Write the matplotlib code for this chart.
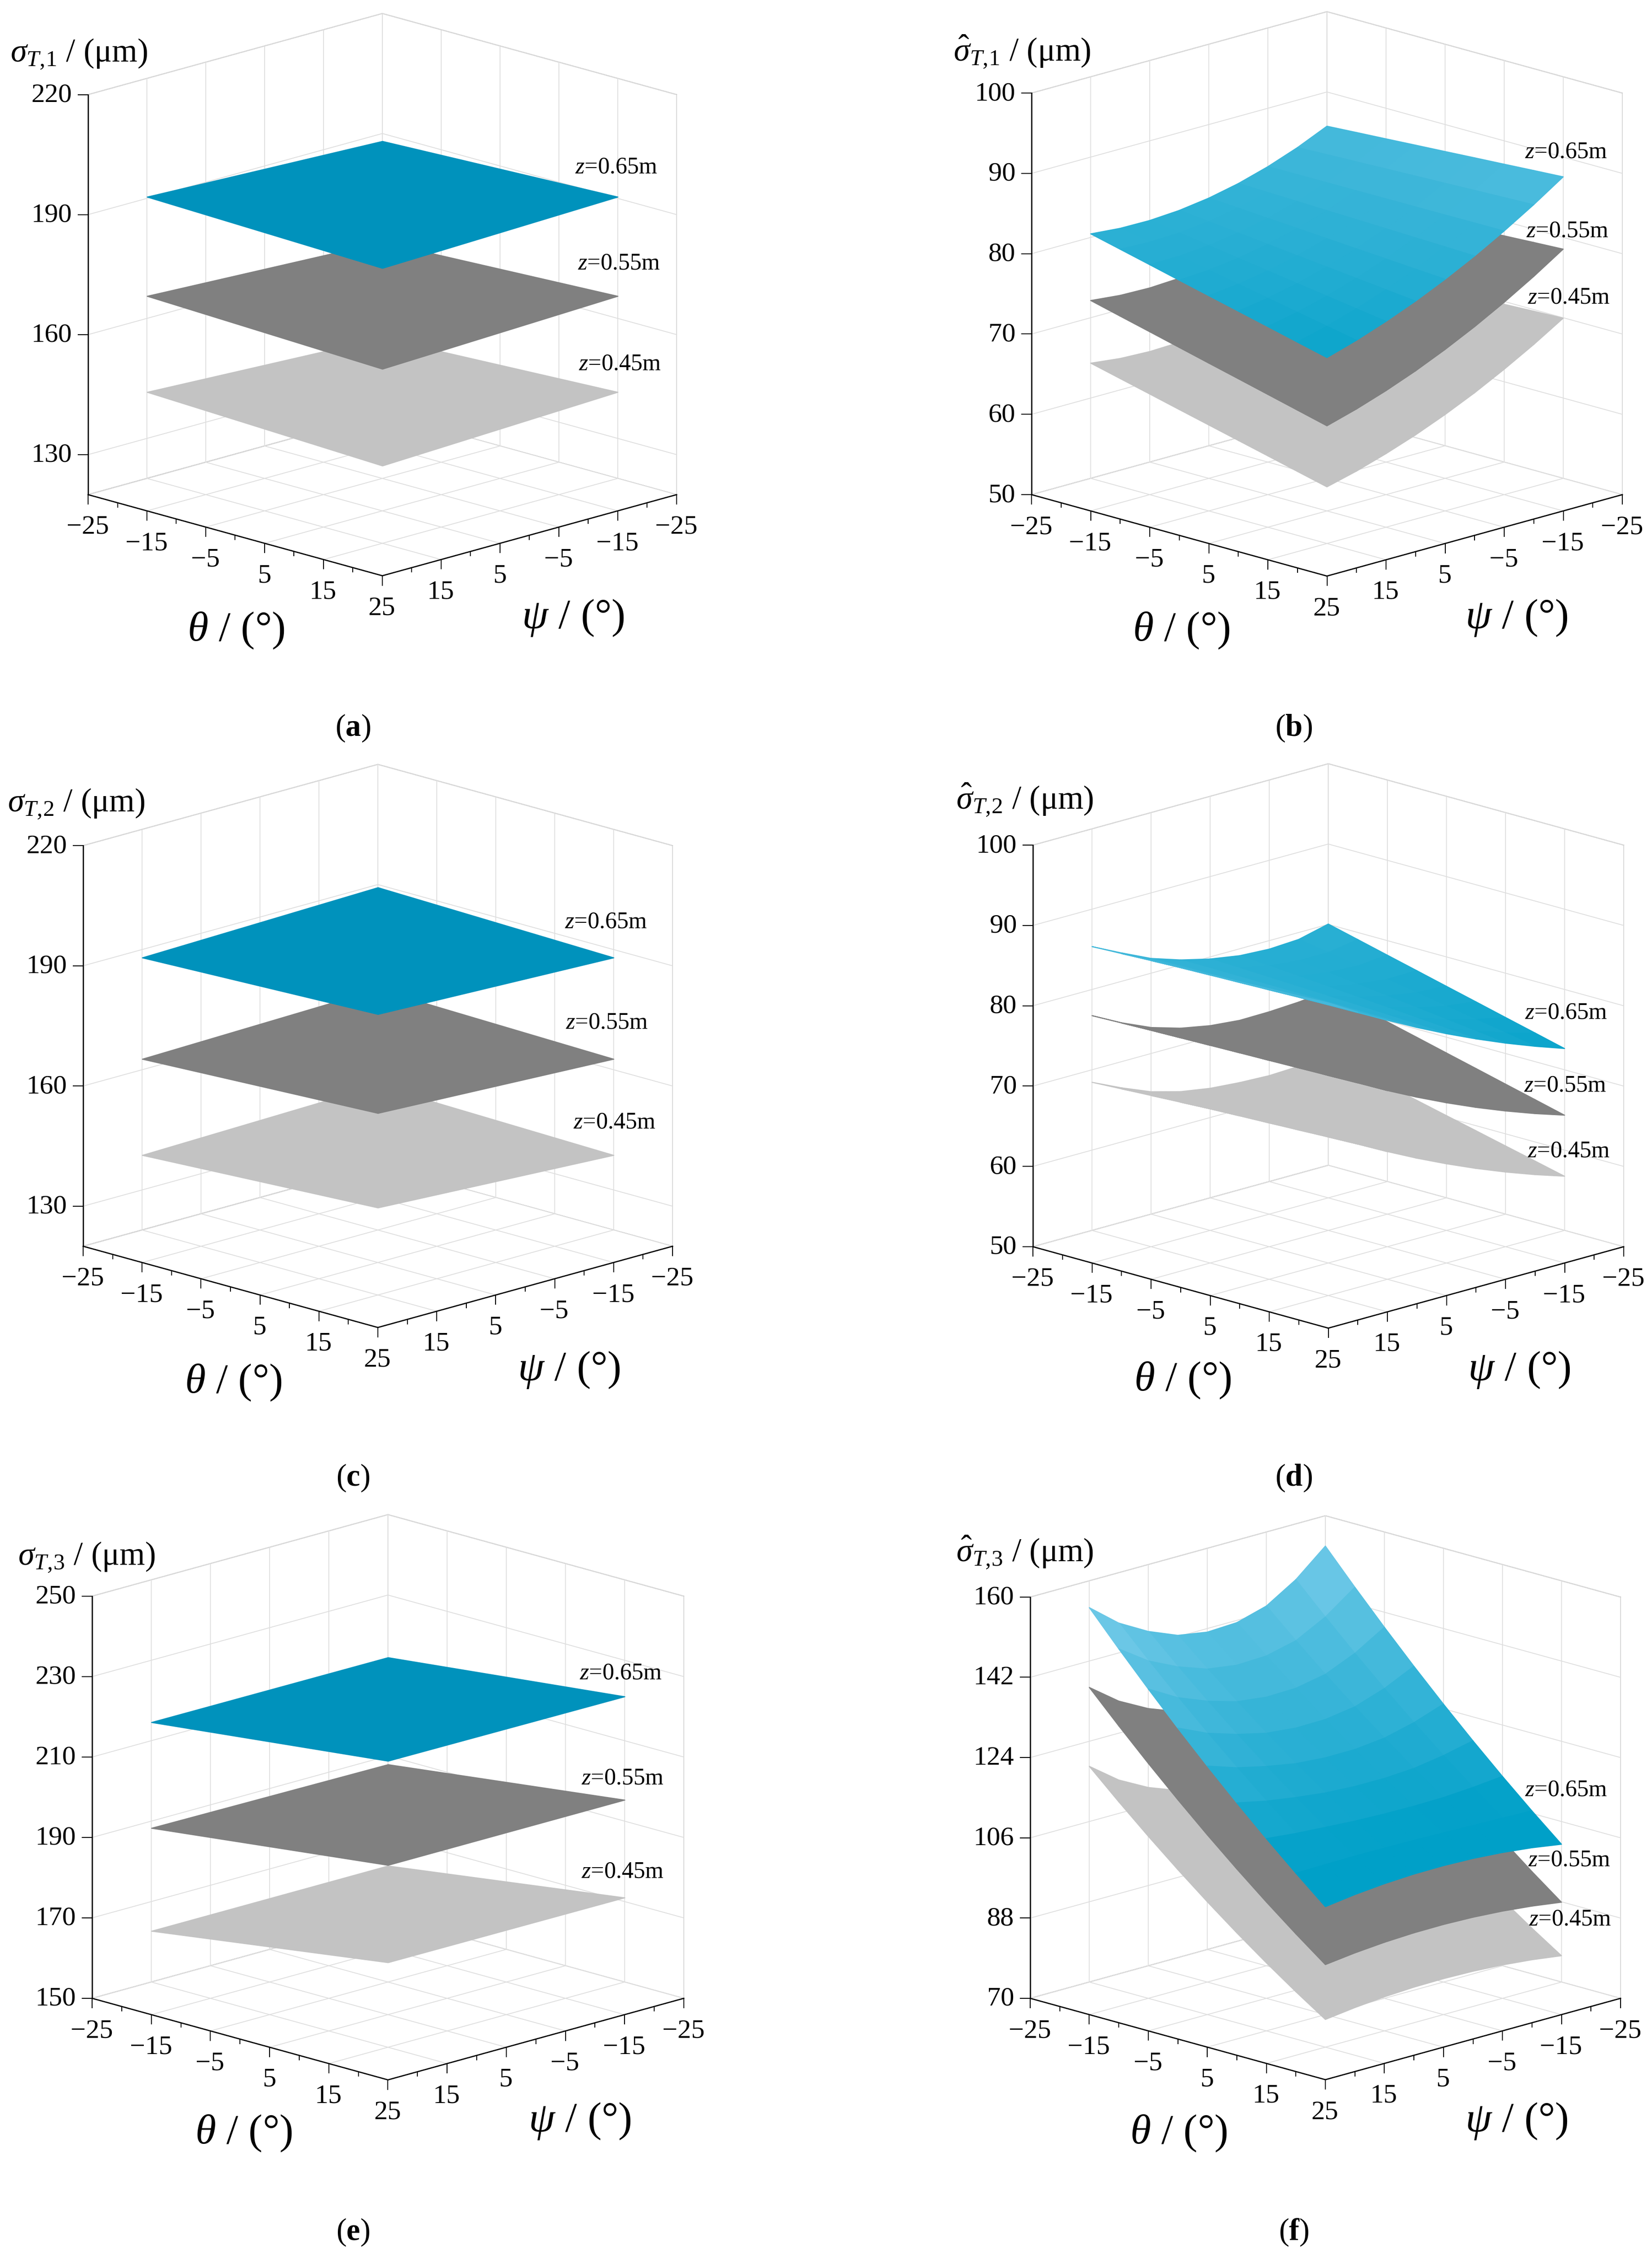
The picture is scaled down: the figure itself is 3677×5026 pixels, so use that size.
import numpy as np
import matplotlib
matplotlib.use('Agg')
import matplotlib.pyplot as plt
from matplotlib.lines import Line2D

plt.rcParams['font.family'] = ['Liberation Serif', 'DejaVu Serif']
plt.rcParams['mathtext.fontset'] = 'custom'
plt.rcParams['mathtext.rm'] = 'Liberation Serif'
plt.rcParams['mathtext.it'] = 'Liberation Serif:italic'
plt.rcParams['mathtext.bf'] = 'Liberation Serif:bold'
plt.rcParams['axes.unicode_minus'] = True

# ---------------- data ----------------
axis_ticks = [-25, -15, -5, 5, 15, 25]
minor_ticks = [-20, -10, 0, 10, 20]
theta_flat = [-15, 25]              # grid for the flat planes (rows = theta)
psi_flat = [-15, 25]                # (cols = psi)
theta_grid = [-15, -10, -5, 0, 5, 10, 15, 20, 25]   # grid for curved surfaces
psi_grid = [-15, -10, -5, 0, 5, 10, 15, 20, 25]
levels = ['0.65', '0.55', '0.45']

# (a) sigma_T,1
a_065 = [[196.2, 198.5], [198.5, 196.9]]
a_055 = [[171.0, 173.7], [173.7, 171.7]]
a_045 = [[147.0, 149.7], [149.7, 147.5]]
# (c) sigma_T,2
c_065 = [[197.4, 196.1], [196.1, 198.2]]
c_055 = [[172.0, 170.8], [170.8, 173.5]]
c_045 = [[148.0, 146.8], [146.8, 149.9]]
# (e) sigma_T,3
e_065 = [[222.6, 222.7], [229.1, 229.3]]
e_055 = [[196.0, 196.4], [203.4, 203.4]]
e_045 = [[170.8, 170.8], [179.1, 179.2]]

# (b) hat sigma_T,1   rows: theta, cols: psi
b_065 = [[89.80, 88.15, 86.79, 85.70, 84.90, 84.38, 84.14, 84.18, 84.50],
         [90.03, 88.28, 86.80, 85.59, 84.65, 83.98, 83.58, 83.45, 83.59],
         [90.25, 88.40, 86.81, 85.48, 84.40, 83.58, 83.02, 82.72, 82.68],
         [90.48, 88.53, 86.82, 85.36, 84.15, 83.18, 82.46, 81.99, 81.76],
         [90.70, 88.65, 86.83, 85.25, 83.90, 82.78, 81.90, 81.26, 80.85],
         [90.93, 88.77, 86.84, 85.14, 83.65, 82.39, 81.34, 80.53, 79.94],
         [91.15, 88.90, 86.85, 85.02, 83.40, 81.99, 80.79, 79.80, 79.03],
         [91.38, 89.02, 86.87, 84.91, 83.15, 81.59, 80.23, 79.07, 78.11],
         [91.60, 89.14, 86.88, 84.79, 82.90, 81.19, 79.68, 78.34, 77.20]]
b_055 = [[81.10, 79.50, 78.19, 77.15, 76.40, 75.93, 75.74, 75.83, 76.20],
         [81.29, 79.59, 78.17, 77.01, 76.12, 75.50, 75.15, 75.07, 75.26],
         [81.48, 79.68, 78.14, 76.86, 75.84, 75.07, 74.56, 74.32, 74.33],
         [81.67, 79.77, 78.12, 76.71, 75.56, 74.64, 73.98, 73.56, 73.39],
         [81.85, 79.86, 78.09, 76.57, 75.28, 74.21, 73.39, 72.80, 72.45],
         [82.04, 79.94, 78.07, 76.43, 74.99, 73.79, 72.80, 72.05, 71.52],
         [82.23, 80.03, 78.04, 76.27, 74.71, 73.36, 72.22, 71.29, 70.58],
         [82.42, 80.12, 78.03, 76.13, 74.43, 72.93, 71.63, 70.53, 69.64],
         [82.60, 80.20, 78.00, 75.98, 74.15, 72.50, 71.05, 69.78, 68.70]]
b_045 = [[72.80, 71.26, 70.02, 69.04, 68.35, 67.94, 67.82, 67.97, 68.40],
         [72.95, 71.33, 69.97, 68.88, 68.06, 67.51, 67.24, 67.23, 67.49],
         [73.10, 71.38, 69.92, 68.72, 67.78, 67.09, 66.66, 66.49, 66.58],
         [73.26, 71.45, 69.88, 68.56, 67.49, 66.66, 66.08, 65.75, 65.66],
         [73.40, 71.50, 69.83, 68.40, 67.20, 66.23, 65.50, 65.01, 64.75],
         [73.55, 71.55, 69.78, 68.24, 66.91, 65.81, 64.92, 64.27, 63.84],
         [73.70, 71.62, 69.74, 68.08, 66.63, 65.38, 64.35, 63.53, 62.93],
         [73.86, 71.67, 69.70, 67.92, 66.34, 64.96, 63.77, 62.79, 62.01],
         [74.00, 71.73, 69.66, 67.75, 66.05, 64.53, 63.21, 62.05, 61.10]]
# (d) hat sigma_T,2
d_065 = [[84.10, 83.20, 83.00, 83.20, 83.80, 84.70, 85.90, 87.60, 89.40],
         [83.18, 82.55, 82.55, 82.92, 83.65, 84.66, 85.95, 87.69, 89.54],
         [82.25, 81.90, 82.10, 82.64, 83.50, 84.62, 86.00, 87.79, 89.68],
         [81.33, 81.25, 81.65, 82.35, 83.35, 84.58, 86.05, 87.88, 89.81],
         [80.40, 80.60, 81.20, 82.07, 83.20, 84.55, 86.10, 87.97, 89.95],
         [79.48, 79.94, 80.75, 81.79, 83.05, 84.51, 86.15, 88.06, 90.09],
         [78.55, 79.29, 80.30, 81.51, 82.90, 84.47, 86.20, 88.16, 90.23],
         [77.63, 78.64, 79.85, 81.22, 82.75, 84.43, 86.25, 88.25, 90.36],
         [76.70, 77.99, 79.40, 80.94, 82.60, 84.39, 86.30, 88.34, 90.50]]
d_055 = [[75.80, 75.40, 75.20, 75.15, 75.50, 76.20, 77.30, 78.90, 80.80],
         [74.88, 74.68, 74.67, 74.81, 75.31, 76.14, 77.33, 78.98, 80.90],
         [73.95, 73.95, 74.14, 74.47, 75.13, 76.08, 77.36, 79.05, 81.00],
         [73.03, 73.23, 73.61, 74.12, 74.94, 76.02, 77.39, 79.13, 81.10],
         [72.10, 72.51, 73.08, 73.78, 74.75, 75.96, 77.43, 79.21, 81.20],
         [71.18, 71.78, 72.54, 73.44, 74.56, 75.89, 77.46, 79.28, 81.30],
         [70.25, 71.06, 72.01, 73.10, 74.38, 75.83, 77.49, 79.36, 81.40],
         [69.33, 70.33, 71.48, 72.75, 74.19, 75.77, 77.52, 79.43, 81.50],
         [68.40, 69.61, 70.95, 72.41, 74.00, 75.71, 77.55, 79.51, 81.60]]
d_045 = [[67.80, 67.40, 67.25, 67.40, 67.70, 68.30, 69.30, 70.80, 72.50],
         [66.93, 66.73, 66.76, 67.08, 67.54, 68.28, 69.38, 70.94, 72.69],
         [66.05, 66.05, 66.28, 66.75, 67.38, 68.25, 69.46, 71.08, 72.88],
         [65.18, 65.38, 65.79, 66.43, 67.21, 68.23, 69.54, 71.22, 73.06],
         [64.30, 64.71, 65.30, 66.11, 67.05, 68.21, 69.63, 71.36, 73.25],
         [63.43, 64.03, 64.81, 65.78, 66.89, 68.18, 69.71, 71.49, 73.44],
         [62.55, 63.36, 64.33, 65.46, 66.73, 68.16, 69.79, 71.63, 73.63],
         [61.68, 62.68, 63.84, 65.13, 66.56, 68.13, 69.87, 71.77, 73.81],
         [60.80, 62.01, 63.35, 64.81, 66.40, 68.11, 69.95, 71.91, 74.00]]
# (f) hat sigma_T,3
f_065 = [[160.50, 154.80, 150.70, 148.80, 148.50, 149.60, 152.30, 156.00, 161.30],
         [153.09, 148.23, 144.74, 143.14, 142.90, 143.85, 146.18, 149.34, 153.86],
         [145.93, 141.91, 139.02, 137.72, 137.55, 138.36, 140.30, 142.92, 146.68],
         [139.01, 135.84, 133.56, 132.55, 132.45, 133.11, 134.68, 136.76, 139.74],
         [132.35, 130.02, 128.36, 127.64, 127.60, 128.12, 129.31, 130.84, 133.05],
         [125.94, 124.45, 123.39, 122.98, 123.00, 123.37, 124.17, 125.18, 126.61],
         [119.78, 119.13, 118.68, 118.57, 118.65, 118.88, 119.30, 119.76, 120.43],
         [113.86, 114.06, 114.21, 114.40, 114.55, 114.63, 114.67, 114.60, 114.49],
         [108.20, 109.24, 110.00, 110.49, 110.70, 110.64, 110.30, 109.69, 108.80]]
f_055 = [[142.60, 137.20, 133.50, 131.80, 131.50, 132.50, 135.00, 138.50, 143.40],
         [135.80, 131.20, 128.04, 126.61, 126.38, 127.24, 129.39, 132.39, 136.58],
         [129.25, 125.43, 122.84, 121.67, 121.50, 122.24, 124.04, 126.53, 130.00],
         [122.95, 119.93, 117.88, 116.99, 116.87, 117.48, 118.93, 120.91, 123.68],
         [116.90, 114.68, 113.18, 112.55, 112.50, 112.98, 114.08, 115.55, 117.60],
         [111.10, 109.66, 108.72, 108.36, 108.38, 108.72, 109.47, 110.44, 111.78],
         [105.55, 104.91, 104.51, 104.42, 104.50, 104.72, 105.12, 105.58, 106.20],
         [100.25, 100.41, 100.56, 100.73, 100.87, 100.96, 101.01, 100.97, 100.88],
         [95.20, 96.15, 96.85, 97.30, 97.50, 97.45, 97.15, 96.60, 95.80]]
f_045 = [[124.90, 119.50, 115.80, 114.10, 113.80, 114.80, 117.30, 120.80, 125.70],
         [118.81, 114.20, 111.05, 109.61, 109.37, 110.23, 112.38, 115.37, 119.55],
         [112.98, 109.15, 106.54, 105.37, 105.19, 105.92, 107.71, 110.19, 113.65],
         [107.39, 104.35, 102.29, 101.39, 101.25, 101.85, 103.29, 105.25, 108.00],
         [102.05, 99.81, 98.29, 97.65, 97.58, 98.03, 99.11, 100.57, 102.60],
         [96.96, 95.50, 94.53, 94.16, 94.15, 94.47, 95.19, 96.14, 97.45],
         [92.13, 91.46, 91.03, 90.91, 90.97, 91.15, 91.52, 91.96, 92.55],
         [87.54, 87.66, 87.78, 87.92, 88.03, 88.08, 88.10, 88.02, 87.90],
         [83.20, 84.12, 84.78, 85.19, 85.35, 85.27, 84.93, 84.34, 83.50]]

zticks_a = [130, 160, 190, 220]
zticks_b = [50, 60, 70, 80, 90, 100]
zticks_e = [150, 170, 190, 210, 230, 250]
zticks_f = [70, 88, 106, 124, 142, 160]

ztitles = [r'$\sigma_{T,\!1}$ / (μm)', r'$\hat{\sigma}_{T,\!1}$ / (μm)',
           r'$\sigma_{T,\!2}$ / (μm)', r'$\hat{\sigma}_{T,\!2}$ / (μm)',
           r'$\sigma_{T,\!3}$ / (μm)', r'$\hat{\sigma}_{T,\!3}$ / (μm)']
panel_tags = ['a', 'b', 'c', 'd', 'e', 'f']

# ---------------- layout / style ----------------
W, H = 3677, 5026
DPI = 300
fig = plt.figure(figsize=(W / DPI, H / DPI), dpi=DPI)

BLUE_FLAT = np.array([0, 146, 188]) / 255
BLUE_LO = np.array([0, 160, 200]) / 255
BLUE_HI = np.array([120, 204, 234]) / 255
DARK = np.array([128, 128, 128]) / 255
LIGHT = np.array([195, 195, 195]) / 255

panels = [
    dict(data=[a_065, a_055, a_045], th=theta_flat, ps=psi_flat, zlim=(120, 220), zt=zticks_a,
         curved=False, xL=196, xR=1506, yL=1101,
         ztitle=(23, 120), thl=(525, 1404), psl=(1275, 1375),
         zl=[(1280, 373), (1286, 587), (1288, 811)], tag=(786, 1621)),
    dict(data=[b_065, b_055, b_045], th=theta_grid, ps=psi_grid, zlim=(50, 100), zt=zticks_b,
         curved=True, xL=2296, xR=3611, yL=1101,
         ztitle=(2122, 115), thl=(2629, 1404), psl=(3375, 1375),
         zl=[(3394, 338), (3397, 514), (3400, 662)], tag=(2880, 1621)),
    dict(data=[c_065, c_055, c_045], th=theta_flat, ps=psi_flat, zlim=(120, 220), zt=zticks_a,
         curved=False, xL=185, xR=1497, yL=2774,
         ztitle=(17, 1789), thl=(519, 3078), psl=(1266, 3049),
         zl=[(1257, 2052), (1259, 2277), (1276, 2499)], tag=(786, 3290)),
    dict(data=[d_065, d_055, d_045], th=theta_grid, ps=psi_grid, zlim=(50, 100), zt=zticks_b,
         curved=True, xL=2299, xR=3614, yL=2775,
         ztitle=(2128, 1780), thl=(2632, 3073), psl=(3381, 3049),
         zl=[(3394, 2254), (3392, 2416), (3400, 2562)], tag=(2880, 3290)),
    dict(data=[e_065, e_055, e_045], th=theta_flat, ps=psi_flat, zlim=(150, 250), zt=zticks_e,
         curved=False, xL=205, xR=1522, yL=4448,
         ztitle=(40, 3466), thl=(542, 4749), psl=(1290, 4721),
         zl=[(1290, 3724), (1294, 3959), (1294, 4166)], tag=(786, 4969)),
    dict(data=[f_065, f_055, f_045], th=theta_grid, ps=psi_grid, zlim=(70, 160), zt=zticks_f,
         curved=True, xL=2293, xR=3607, yL=4448,
         ztitle=(2128, 3455), thl=(2623, 4749), psl=(3375, 4721),
         zl=[(3394, 3984), (3401, 4141), (3403, 4273)], tag=(2880, 4969)),
]


def facecolors(Z, base, curved, zlim, blue):
    Z = np.asarray(Z, float)
    fc = np.zeros(Z.shape + (4,))
    fc[..., :3] = base
    fc[..., 3] = 1.0
    if curved and blue:
        for i in range(Z.shape[0] - 1):
            for j in range(Z.shape[1] - 1):
                zq = Z[i:i + 2, j:j + 2].mean()
                t = (zq - zlim[0]) / (zlim[1] - zlim[0])
                w = np.clip((t - 0.5) / 0.5, 0, 1)
                fc[i, j, :3] = BLUE_LO + w * (BLUE_HI - BLUE_LO)
    return fc


axes = []
for k, p in enumerate(panels):
    ax = fig.add_axes([0.05 + 0.5 * (k % 2), 0.7 - 0.33 * (k // 2), 0.4, 0.4 * W / H],
                      projection='3d')
    ax.set_proj_type('ortho')
    ax.view_init(elev=16, azim=45)
    ax.set_box_aspect((1, 1, 1))
    ax.set_xlim(-25, 25)   # x = psi
    ax.set_ylim(-25, 25)   # y = theta
    ax.set_zlim(*p['zlim'])
    ax.set_xticks(axis_ticks, labels=[''] * len(axis_ticks))
    ax.set_yticks(axis_ticks, labels=[''] * len(axis_ticks))
    ax.set_zticks(p['zt'], labels=[''] * len(p['zt']))
    ax.set_xlabel('')
    ax.set_ylabel('')
    ax.set_zlabel('')
    for axis in (ax.xaxis, ax.yaxis, ax.zaxis):
        axis.set_pane_color((1, 1, 1, 1))
        axis.pane.set_edgecolor('#8a8a8a')
        axis.pane.set_linewidth(0.45)
        axis._axinfo['grid']['color'] = '#dedede'
        axis._axinfo['grid']['linewidth'] = 0.45
        axis._axinfo['tick']['inward_factor'] = 0.0
        axis._axinfo['tick']['outward_factor'] = 0.0
        axis.line.set_color('black')
        axis.line.set_linewidth(0.65)

    PS, TH = np.meshgrid(np.asarray(p['ps'], float), np.asarray(p['th'], float))
    cols = [None, DARK, LIGHT]
    for lev, Z in enumerate(p['data']):
        Z = np.asarray(Z, float)
        if lev == 0:
            base = BLUE_FLAT if not p['curved'] else BLUE_LO
        else:
            base = cols[lev]
        fc = facecolors(Z, base, p['curved'], p['zlim'], lev == 0)
        ax.plot_surface(PS, TH, Z, facecolors=fc, rstride=1, cstride=1,
                        shade=False, linewidth=0.5, antialiased=True)
    axes.append(ax)

fig.canvas.draw()


def disp(ax, x, y, z):
    v = ax.get_proj() @ np.array([x, y, z, 1.0])
    return ax.transData.transform((v[0] / v[3], v[1] / v[3]))


for ax, p in zip(axes, panels):
    z0 = p['zlim'][0]
    pL = disp(ax, 25, -25, z0)     # psi=25, theta=-25
    pR = disp(ax, -25, 25, z0)     # psi=-25, theta=25
    bb = ax.get_position().transformed(fig.transFigure)
    S = bb.width
    x0, y0 = bb.x0, bb.y0
    k = (p['xR'] - p['xL']) / (pR[0] - pL[0])
    fL = ((pL[0] - x0) / S, (pL[1] - y0) / S)
    S2 = S * k
    tx, ty = p['xL'], H - p['yL']
    ax.set_position([(tx - S2 * fL[0]) / W, (ty - S2 * fL[1]) / H, S2 / W, S2 / H])

fig.canvas.draw()


def seg(p1, p2, lw=0.5):
    fig.add_artist(Line2D([p1[0] / W, p2[0] / W], [p1[1] / H, p2[1] / H],
                          transform=fig.transFigure, color='black', lw=lw,
                          solid_capstyle='butt'))


def dtext(pt, s, **kw):
    fig.text(pt[0] / W, pt[1] / H, s, **kw)


def ftext(x, y, s, **kw):
    fig.text(x / W, 1 - y / H, s, **kw)


TICK_FS = 14.5
for ax, p in zip(axes, panels):
    z0 = p['zlim'][0]
    # theta axis (along psi = 25) and psi axis (along theta = 25)
    for t in axis_ticks:
        a = disp(ax, 25, t, z0)
        seg(a, (a[0], a[1] - 22))
        lab = ('%d' % t).replace('-', '\u2212')
        dtext((a[0] - 1, a[1] - 73), lab, fontsize=TICK_FS, ha='center', va='center')
        if t != 25:
            b = disp(ax, t, 25, z0)
            seg(b, (b[0], b[1] - 22))
            dtext((b[0] - 1, b[1] - 73), lab, fontsize=TICK_FS, ha='center', va='center')
    for t in minor_ticks:
        a = disp(ax, 25, t, z0)
        seg(a, (a[0], a[1] - 11))
        b = disp(ax, t, 25, z0)
        seg(b, (b[0], b[1] - 11))
    # z axis at the left corner
    for zt in p['zt']:
        a = disp(ax, 25, -25, zt)
        seg(a, (a[0] - 23, a[1]))
        dtext((a[0] - 36, a[1] - 2), '%d' % zt, fontsize=TICK_FS, ha='right', va='center')

for k, p in enumerate(panels):
    ftext(*p['ztitle'], ztitles[k], fontsize=17.5, ha='left', va='center')
    ftext(*p['thl'], r'$\theta$ / (°)', fontsize=22.5, ha='center', va='center')
    ftext(*p['psl'], r'$\psi$ / (°)', fontsize=22.5, ha='center', va='center')
    for (x, y), lv in zip(p['zl'], levels):
        ftext(x, y, r'$z$=' + lv + 'm', fontsize=12.5, ha='left', va='center')
    ftext(*p['tag'], '(' + r'$\mathbf{' + panel_tags[k] + '}$' + ')', fontsize=16.5,
          ha='center', va='center')

fig.savefig('out.png', dpi=DPI, facecolor='white')
